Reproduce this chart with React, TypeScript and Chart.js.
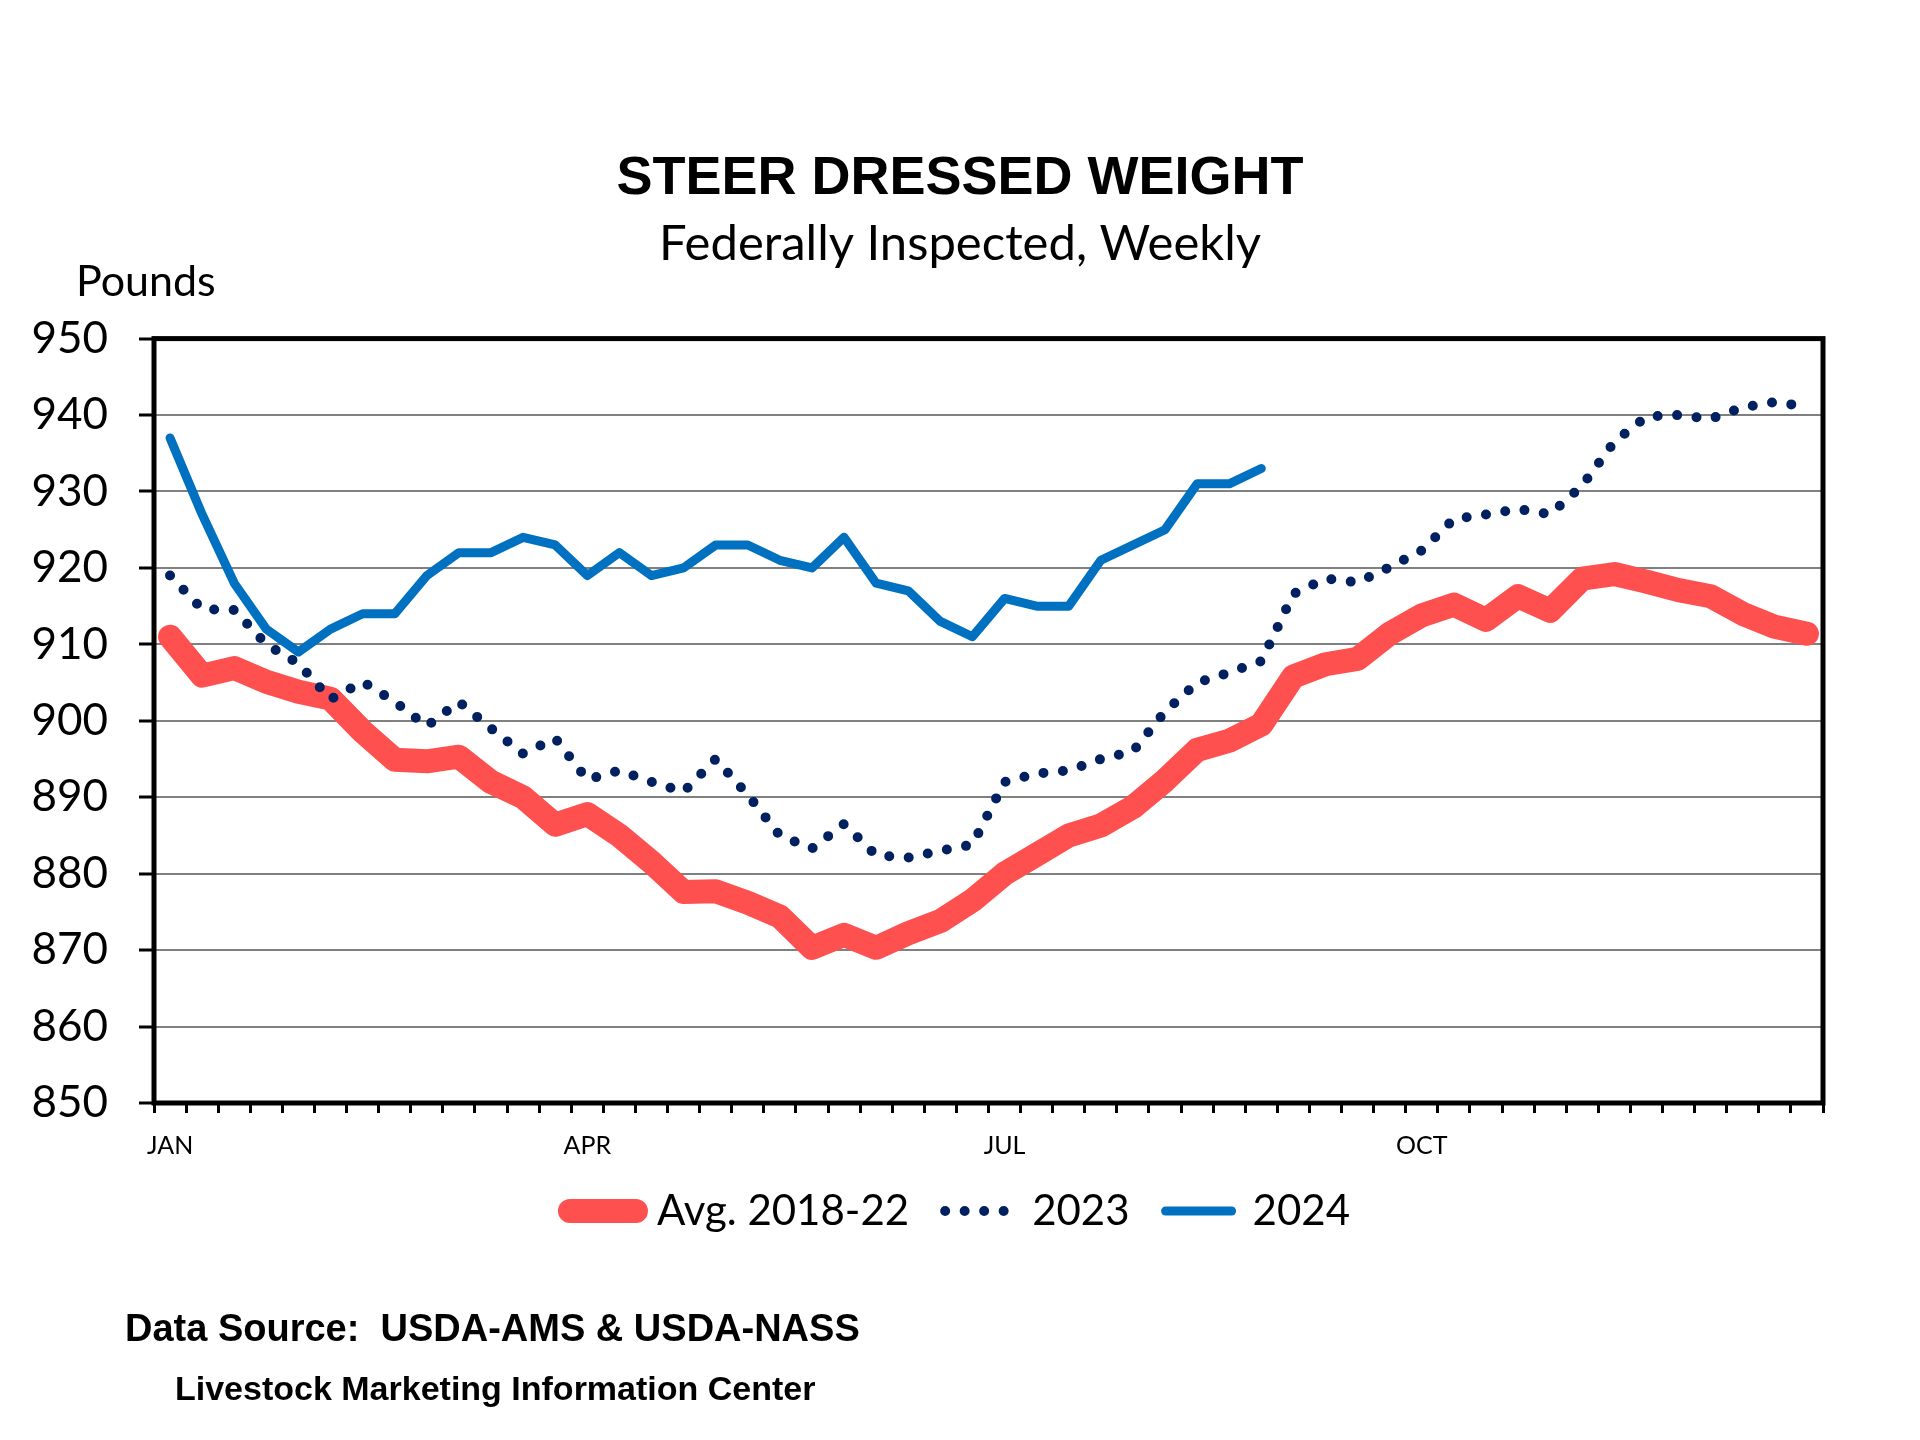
import React, { useEffect, useRef } from 'react';
import { Chart, registerables } from 'chart.js';

Chart.register(...registerables);

const weeks = [
  1, 2, 3, 4, 5, 6, 7, 8, 9, 10, 11, 12, 13, 14, 15, 16, 17, 18, 19, 20, 21, 22, 23, 24, 25, 26,
  27, 28, 29, 30, 31, 32, 33, 34, 35, 36, 37, 38, 39, 40, 41, 42, 43, 44, 45, 46, 47, 48, 49, 50, 51, 52,
];

const weekTickLabels = [
  'JAN', '', '', '', '', '', '', '', '', '', '', '', '',
  'APR', '', '', '', '', '', '', '', '', '', '', '', '',
  'JUL', '', '', '', '', '', '', '', '', '', '', '', '',
  'OCT', '', '', '', '', '', '', '', '', '', '', '', '',
];

const avg2018to22 = [
  911.0, 905.9, 906.9, 905.1, 903.8, 902.9, 898.6, 894.9, 894.7, 895.3, 892.0, 890.0, 886.4,
  887.8, 885.0, 881.5, 877.6, 877.7, 876.2, 874.4, 870.3, 872.0, 870.3, 872.2, 873.8, 876.5,
  880.0, 882.5, 885.0, 886.3, 888.7, 892.2, 896.2, 897.4, 899.5, 905.8, 907.4, 908.1, 911.4,
  913.8, 915.2, 913.2, 916.3, 914.4, 918.6, 919.2, 918.2, 917.1, 916.3, 914.0, 912.3, 911.4,
];

const values2023 = [
  919.0, 914.6, 914.5, 910.0, 907.5, 902.8, 905.1, 902.5, 899.3, 902.5, 899.0, 895.7, 897.7,
  892.3, 893.5, 892.0, 890.7, 895.0, 890.3, 885.0, 883.3, 886.5, 882.4, 882.1, 883.0, 883.8,
  892.0, 893.1, 893.5, 895.0, 896.0, 901.2, 905.0, 906.3, 907.8, 916.6, 918.6, 918.1, 920.1,
  922.3, 926.4, 927.0, 927.7, 927.0, 930.8, 936.5, 939.8, 940.0, 939.5, 941.0, 941.7, 941.1,
];

const values2024 = [
  937, 927, 918, 912, 909, 912, 914, 914, 919, 922, 922, 924, 923,
  919, 922, 919, 920, 923, 923, 921, 920, 924, 918, 917, 913, 911,
  916, 915, 915, 921, 923, 925, 931, 931, 933,
];

const seriesLabels = ['Avg. 2018-22', '2023', '2024'];

const LEGEND_SHIFT = 14;

const framePlugin = {
  id: 'frameAndNotes',
  afterLayout(chart: any) {
    const lg = chart.legend;
    if (lg) {
      lg.top -= LEGEND_SHIFT;
      lg.bottom -= LEGEND_SHIFT;
    }
  },
  afterDatasetsDraw(chart: any) {
    const { ctx, chartArea } = chart;
    ctx.save();
    ctx.strokeStyle = '#000';
    ctx.lineWidth = 5;
    ctx.strokeRect(chartArea.left, chartArea.top, chartArea.right - chartArea.left, chartArea.bottom - chartArea.top);
    ctx.restore();
  },
  afterDraw(chart: any) {
    const { ctx } = chart;
    ctx.save();
    ctx.fillStyle = '#000';
    ctx.textAlign = 'left';
    ctx.textBaseline = 'alphabetic';
    ctx.font = '43px Lato';
    ctx.fillText('Pounds', 76, 296);
    ctx.font = 'bold 38px "Liberation Sans"';
    ctx.fillText('Data Source:  USDA-AMS & USDA-NASS', 125, 1341);
    ctx.font = 'bold 34px "Liberation Sans"';
    ctx.fillText('Livestock Marketing Information Center', 175, 1400);
    ctx.restore();
  },
};

export default function App() {
  const canvasRef = useRef<HTMLCanvasElement | null>(null);

  useEffect(() => {
    document.body.style.margin = '0';
    const canvas = canvasRef.current;
    if (!canvas) return;
    const chart = new Chart(canvas, {
      type: 'line',
      data: {
        labels: weeks,
        datasets: [
          {
            label: seriesLabels[0],
            data: avg2018to22,
            borderColor: '#FF5050',
            backgroundColor: '#FF5050',
            borderWidth: 24,
            borderJoinStyle: 'round',
            borderCapStyle: 'round',
            pointRadius: 0,
            pointHoverRadius: 0,
            tension: 0,
            order: 3,
          },
          {
            label: seriesLabels[1],
            data: values2023,
            borderColor: '#002060',
            backgroundColor: '#002060',
            borderWidth: 10,
            borderDash: [0, 19.5],
            borderCapStyle: 'round',
            borderJoinStyle: 'round',
            pointRadius: 0,
            pointHoverRadius: 0,
            tension: 0,
            order: 2,
          },
          {
            label: seriesLabels[2],
            data: values2024,
            borderColor: '#0070C0',
            backgroundColor: '#0070C0',
            borderWidth: 9,
            borderCapStyle: 'round',
            borderJoinStyle: 'round',
            pointRadius: 0,
            pointHoverRadius: 0,
            tension: 0,
            order: 1,
          },
        ],
      },
      options: {
        responsive: false,
        animation: false,
        devicePixelRatio: 1,
        events: [],
        layout: { padding: { top: 147, left: 0, right: 0, bottom: 184 } },
        scales: {
          x: {
            type: 'category',
            offset: true,
            afterFit: (scale: any) => {
              scale.height = 65;
            },
            grid: {
              offset: true,
              drawOnChartArea: false,
              drawTicks: true,
              tickLength: 10,
              tickWidth: 3,
              tickColor: '#000',
            },
            border: { display: false },
            ticks: {
              autoSkip: false,
              maxRotation: 0,
              minRotation: 0,
              padding: 18,
              color: '#000',
              font: { family: 'Lato', size: 25 },
              callback: (_v: any, idx: number) => weekTickLabels[idx],
            },
          },
          y: {
            min: 850,
            max: 950,
            afterFit: (scale: any) => {
              scale.width = 154;
            },
            grid: {
              color: '#808080',
              lineWidth: 2,
              tickLength: 15,
              tickWidth: 3,
              tickColor: '#000',
            },
            border: { display: false },
            ticks: {
              stepSize: 10,
              padding: 31,
              color: '#000',
              font: { family: 'Lato', size: 44 },
            },
          },
          yRight: {
            position: 'right',
            display: true,
            min: 850,
            max: 950,
            afterFit: (scale: any) => {
              scale.width = 97;
            },
            grid: { display: false, drawTicks: false },
            border: { display: false },
            ticks: { display: false },
          },
        },
        plugins: {
          title: {
            display: true,
            text: 'STEER DRESSED WEIGHT',
            color: '#000',
            font: { family: 'Liberation Sans', size: 54, weight: 'bold' },
            padding: { top: 0, bottom: 3 },
          },
          subtitle: {
            display: true,
            text: 'Federally Inspected, Weekly',
            color: '#000',
            font: { family: 'Lato', size: 49 },
            padding: { top: 0, bottom: 65 },
          },
          legend: {
            display: true,
            position: 'bottom',
            labels: {
              usePointStyle: true,
              pointStyle: 'line',
              pointStyleWidth: 66,
              padding: 36,
              color: '#000',
              font: { family: 'Lato', size: 42 },
              generateLabels: (c: any) =>
                c.data.datasets.map((ds: any, i: number) => ({
                  text: ds.label,
                  fillStyle: ds.borderColor,
                  strokeStyle: ds.borderColor,
                  lineWidth: ds.borderWidth,
                  lineDash: ds.borderDash || [],
                  lineCap: 'round',
                  pointStyle: 'line',
                  hidden: false,
                  datasetIndex: i,
                  fontColor: '#000',
                })),
            },
          },
          tooltip: { enabled: false },
        },
      },
      plugins: [framePlugin],
    } as any);
    return () => chart.destroy();
  }, []);

  return (
    <div style={{ width: 1920, height: 1440, background: '#fff' }}>
      <canvas ref={canvasRef} width={1920} height={1440} style={{ display: 'block' }} />
    </div>
  );
}
